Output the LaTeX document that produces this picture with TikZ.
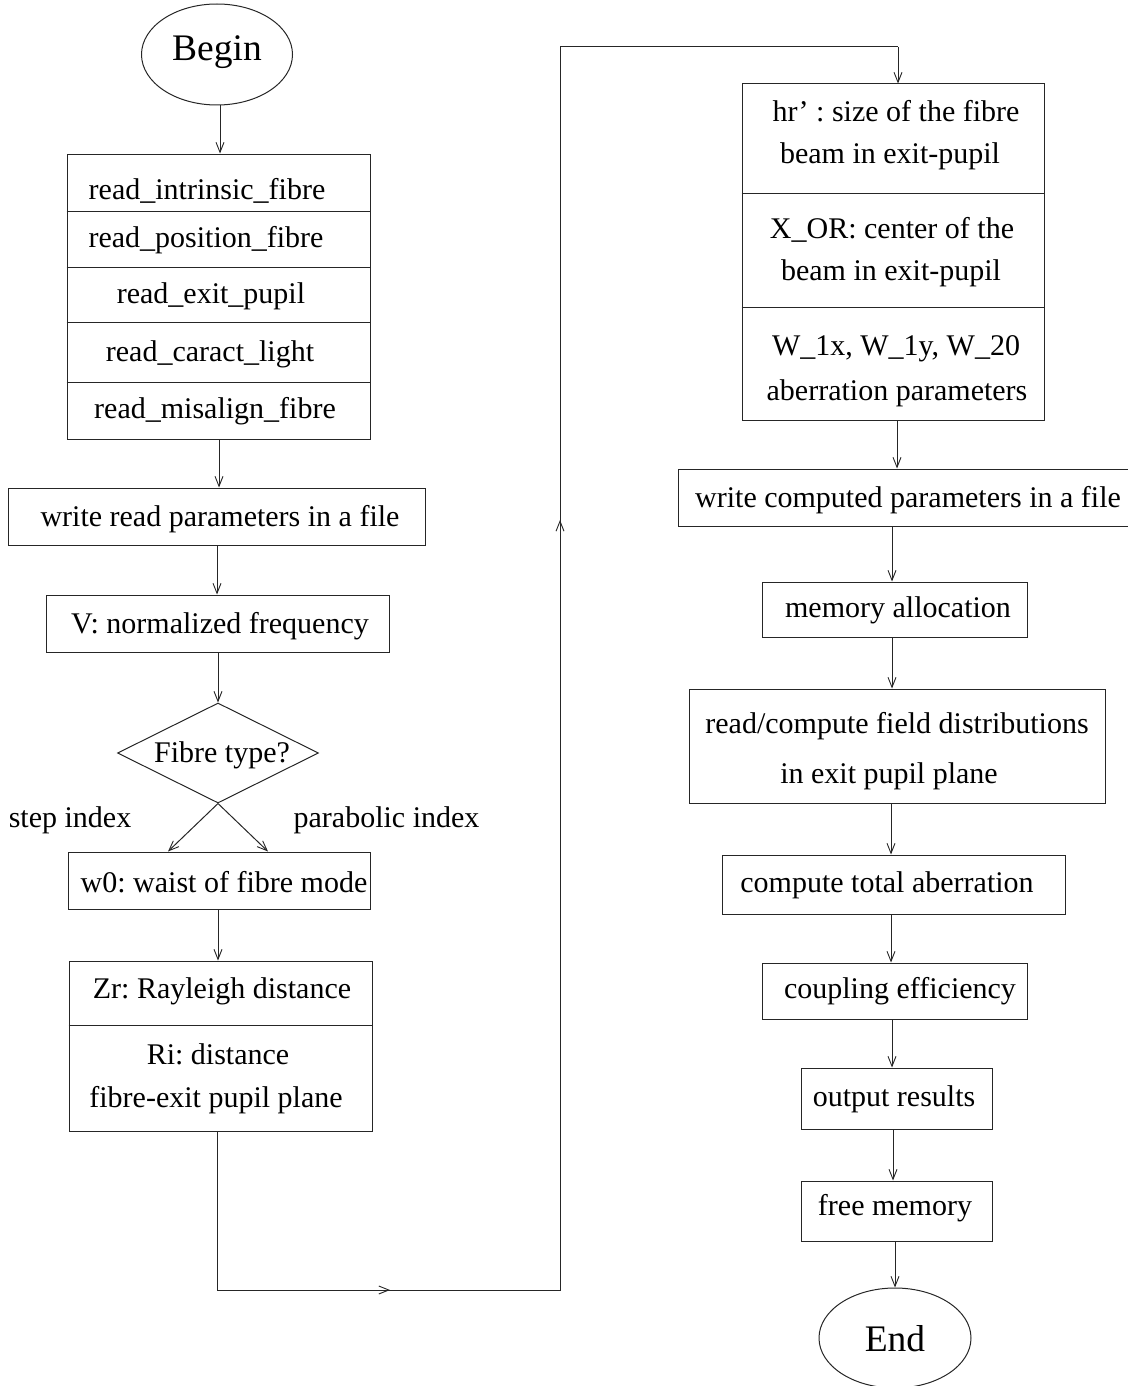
\documentclass[tikz,border=0pt]{standalone}
\usepackage{fontspec}
\setmainfont{Liberation Serif}
\usetikzlibrary{arrows.meta,shapes.geometric}
\frenchspacing
\tikzset{
  ln/.style={line width=1pt, draw=black!85},
  arr/.style={ln, -{Straight Barb[length=10pt,width=8pt,line width=0.9pt]}},
  box/.style={ln, rectangle, inner sep=0pt, minimum width=#1},
  oval/.style={ln, ellipse, inner sep=0pt, minimum width=151pt, minimum height=101pt},
  txt/.style={anchor=base, inner sep=0pt, font=\fontsize{30}{36}\selectfont\frenchspacing},
  bigtxt/.style={anchor=base, inner sep=0pt, font=\fontsize{37.5}{44}\selectfont},
}
\begin{document}
\begin{tikzpicture}[x=1pt,y=-1pt]
\useasboundingbox (0,0) rectangle (1127,1386);

% ---------- left column ----------
\node[oval] (begin) at (217,54.5) {};
\node[bigtxt] (tbegin) at (217,61) {Begin};

\node[box=303pt, minimum height=285pt] (read) at (218.5,296.5) {};
\draw[ln] (read.west |- 0,211) -- (read.east |- 0,211);
\draw[ln] (read.west |- 0,267) -- (read.east |- 0,267);
\draw[ln] (read.west |- 0,322) -- (read.east |- 0,322);
\draw[ln] (read.west |- 0,382) -- (read.east |- 0,382);
\node[txt] (t1) at (207,199) {read\_intrinsic\_fibre};
\node[txt] (t2) at (206,247) {read\_position\_fibre};
\node[txt] (t3) at (211,303) {read\_exit\_pupil};
\node[txt] (t4) at (210,361) {read\_caract\_light};
\node[txt] (t5) at (215,418) {read\_misalign\_fibre};

\node[box=417pt, minimum height=57pt] (wr) at (216.5,516.5) {};
\node[txt] (twr) at (220,526) {write read parameters in a file};

\node[box=343pt, minimum height=57pt] (vn) at (217.5,623.5) {};
\node[txt] (tvn) at (220,633) {V: normalized frequency};

\node[ln, diamond, inner sep=0pt, minimum width=201pt, minimum height=100pt] (dia) at (218,753) {};
\node[txt] (tdia) at (222,762) {Fibre type?};

\node[txt] (lstep) at (70,827) {step index};
\node[txt] (lpara) at (386.5,827) {parabolic index};

\node[box=302pt, minimum height=57pt] (w0) at (219,880.5) {};
\node[txt] (tw0) at (224,892) {w0: waist of fibre mode};

\node[box=303pt, minimum height=170pt] (zr) at (220.5,1046) {};
\draw[ln] (zr.west |- 0,1025) -- (zr.east |- 0,1025);
\node[txt] (tzr) at (222,998) {Zr: Rayleigh distance};
\node[txt] (tri1) at (218,1064) {Ri: distance};
\node[txt] (tri2) at (216,1107) {fibre-exit pupil plane};

% ---------- right column ----------
\node[box=302pt, minimum height=336pt] (hr) at (893,252) {};
\draw[ln] (hr.west |- 0,193) -- (hr.east |- 0,193);
\draw[ln] (hr.west |- 0,307) -- (hr.east |- 0,307);
\node[txt] (th1) at (896,122) {hr’ : size of the fibre};
\node[txt] (th2) at (890,163) {beam in exit-pupil};
\node[txt] (th3) at (892,238) {X\_OR: center of the};
\node[txt] (th4) at (891,280) {beam in exit-pupil};
\node[txt] (th5) at (896,355) {W\_1x, W\_1y, W\_20};
\node[txt] (th6) at (897,400) {aberration parameters};

\node[box=462pt, minimum height=57pt] (wc) at (909,497.5) {};
\node[txt] (twc) at (908,507) {write computed parameters in a file};

\node[box=265pt, minimum height=55pt] (mem) at (894.5,609.5) {};
\node[txt] (tmem) at (898,617) {memory allocation};

\node[box=416pt, minimum height=114pt] (rc) at (897,746) {};
\node[txt] (trc1) at (897,733) {read/compute field distributions};
\node[txt] (trc2) at (889,783) {in exit pupil plane};

\node[box=343pt, minimum height=59pt] (cta) at (893.5,884.5) {};
\node[txt] (tcta) at (887,892) {compute total aberration};

\node[box=265pt, minimum height=56pt] (ce) at (894.5,991) {};
\node[txt] (tce) at (900,998) {coupling efficiency};

\node[box=191pt, minimum height=61pt] (out) at (896.5,1098.5) {};
\node[txt] (tout) at (894,1106) {output results};

\node[box=191pt, minimum height=60pt] (fm) at (896.5,1211) {};
\node[txt] (tfm) at (895,1215) {free memory};

\node[oval, minimum width=152pt, minimum height=100pt] (end) at (895,1338) {};
\node[bigtxt] (tend) at (895,1351) {End};

% ---------- connectors ----------
\draw[arr] (begin.south -| 220,0) -- (read.north -| 220,0);
\draw[arr] (read.south -| 219,0) -- (wr.north -| 219,0);
\draw[arr] (wr.south -| 217,0) -- (vn.north -| 217,0);
\draw[arr] (vn.south -| 218,0) -- (dia.north);
\draw[arr] (dia.south) -- (w0.north -| 168,0);
\draw[arr] (dia.south) -- (w0.north -| 268,0);
\draw[arr] (w0.south -| 218,0) -- (zr.north -| 218,0);

\coordinate (c1) at (217,1290);
\coordinate (c2) at (560,1290);
\coordinate (c3) at (560,47);
\coordinate (c4) at (898,47);
\coordinate (m1) at (390,1290);
\coordinate (m2) at (560,520);
\draw[ln] (zr.south -| c1) -- (c1) -- (c2) -- (c3) -- (c4);
\draw[arr] (c4) -- (hr.north -| c4);
\draw[arr] (c1) -- (m1);
\draw[arr] (c2) -- (m2);

\draw[arr] (hr.south -| 897,0) -- (wc.north -| 897,0);
\draw[arr] (wc.south -| 892,0) -- (mem.north -| 892,0);
\draw[arr] (mem.south -| 892,0) -- (rc.north -| 892,0);
\draw[arr] (rc.south -| 891,0) -- (cta.north -| 891,0);
\draw[arr] (cta.south -| 891,0) -- (ce.north -| 891,0);
\draw[arr] (ce.south -| 892,0) -- (out.north -| 892,0);
\draw[arr] (out.south -| 893,0) -- (fm.north -| 893,0);
\draw[arr] (fm.south -| 895,0) -- (end.north);
\end{tikzpicture}
\end{document}
